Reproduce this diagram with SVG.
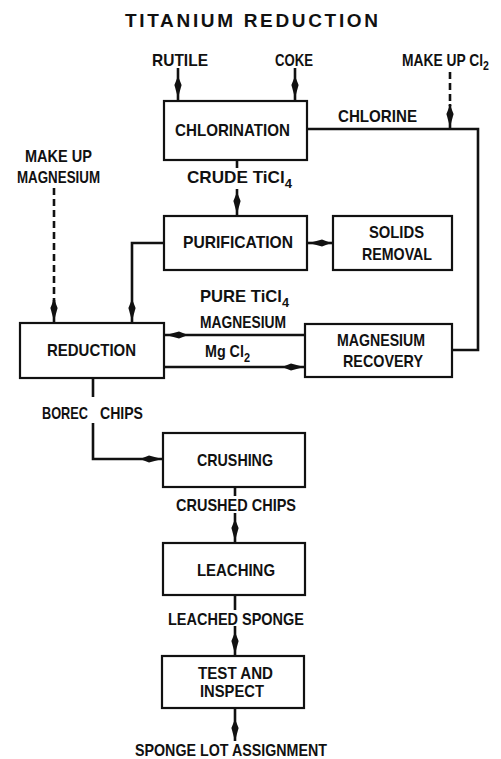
<svg xmlns="http://www.w3.org/2000/svg" xmlns:xlink="http://www.w3.org/1999/xlink" width="501" height="759" viewBox="0 0 501 759">
<style>
.box{fill:#fff;stroke:#111;stroke-width:2.2}
.ln{fill:none;stroke:#111;stroke-width:2.6}
.dash{fill:none;stroke:#111;stroke-width:2.6;stroke-dasharray:7 4}
.t{font-family:"Liberation Sans",Arial,sans-serif;font-weight:bold;font-size:17px;fill:#111}
.sub{font-size:13px}
.title{font-family:"Liberation Sans",Arial,sans-serif;font-weight:bold;font-size:19px;fill:#111}
</style>
<defs>
<polygon id="ah" points="0,0 -13,-3.6 -22,0 -13,3.6" fill="#111"/>
</defs>
<rect width="501" height="759" fill="#fff"/>
<text class="title" x="125" y="27" textLength="253" lengthAdjust="spacing">TITANIUM REDUCTION</text>

<g id="connectors">
  <path class="ln" d="M178,68 V101"/><use xlink:href="#ah" transform="translate(178,98) rotate(90)"/>
  <path class="ln" d="M295,68 V101"/><use xlink:href="#ah" transform="translate(295,98) rotate(90)"/>
  <path class="dash" d="M450,72 V106"/><path class="ln" d="M450,104 V129"/><use xlink:href="#ah" transform="translate(450,127) rotate(90)"/>
  <path class="ln" d="M307,129 H478 V350 H452"/>
  <path class="ln" d="M237,160 V168"/><path class="ln" d="M237,189 V216"/><use xlink:href="#ah" transform="translate(237,214) rotate(90)"/>
  <path class="ln" d="M333,243 H307"/><use xlink:href="#ah" transform="translate(309,243) rotate(180)"/>
  <path class="ln" d="M164,243 H132 V323"/><use xlink:href="#ah" transform="translate(132,321) rotate(90)"/>
  <path class="dash" d="M54,188 V305"/><path class="ln" d="M54,300 V323"/><use xlink:href="#ah" transform="translate(54,321) rotate(90)"/>
  <path class="ln" d="M305,335 H164"/><use xlink:href="#ah" transform="translate(166,335) rotate(180)"/>
  <path class="ln" d="M164,367 H305"/><use xlink:href="#ah" transform="translate(304,367)"/>
  <path class="ln" d="M93,378 V397"/><path class="ln" d="M93,423 V459 H163"/><use xlink:href="#ah" transform="translate(162,459)"/>
  <path class="ln" d="M235,487 V496"/><path class="ln" d="M235,513 V543"/><use xlink:href="#ah" transform="translate(235,541) rotate(90)"/>
  <path class="ln" d="M235,595 V610"/><path class="ln" d="M235,626 V656"/><use xlink:href="#ah" transform="translate(235,654) rotate(90)"/>
  <path class="ln" d="M235,708 V741"/><use xlink:href="#ah" transform="translate(235,741) rotate(90)"/>
</g>

<g id="labels">
  <text class="t" x="152" y="66" textLength="56" lengthAdjust="spacingAndGlyphs">RUTILE</text>
  <text class="t" x="275" y="66" textLength="38" lengthAdjust="spacingAndGlyphs">COKE</text>
  <text class="t" x="402" y="66" textLength="87" lengthAdjust="spacingAndGlyphs">MAKE UP Cl<tspan class="sub" dy="4">2</tspan></text>
  <text class="t" x="338" y="122" textLength="79" lengthAdjust="spacingAndGlyphs">CHLORINE</text>
  <text class="t" x="25" y="162" textLength="67" lengthAdjust="spacingAndGlyphs">MAKE UP</text>
  <text class="t" x="17" y="183" textLength="83" lengthAdjust="spacingAndGlyphs">MAGNESIUM</text>
  <text class="t" x="187" y="183" textLength="105" lengthAdjust="spacingAndGlyphs">CRUDE  TiCl<tspan class="sub" dy="5">4</tspan></text>
  <text class="t" x="200" y="302" textLength="89" lengthAdjust="spacingAndGlyphs">PURE TiCl<tspan class="sub" dy="5">4</tspan></text>
  <text class="t" x="200" y="328" textLength="86" lengthAdjust="spacingAndGlyphs">MAGNESIUM</text>
  <text class="t" x="205" y="357" textLength="45" lengthAdjust="spacingAndGlyphs">Mg Cl<tspan class="sub" dy="5">2</tspan></text>
  <text class="t" x="42" y="419" textLength="46" lengthAdjust="spacingAndGlyphs">BOREC</text>
  <text class="t" x="100" y="419" textLength="43" lengthAdjust="spacingAndGlyphs">CHIPS</text>
  <text class="t" x="176" y="511" textLength="120" lengthAdjust="spacingAndGlyphs">CRUSHED CHIPS</text>
  <text class="t" x="168" y="625" textLength="136" lengthAdjust="spacingAndGlyphs">LEACHED SPONGE</text>
  <text class="t" x="135" y="756" textLength="192" lengthAdjust="spacingAndGlyphs">SPONGE LOT ASSIGNMENT</text>
</g>

<g id="chlorination"><rect class="box" x="164" y="101" width="143" height="59"/><text class="t" x="175" y="136" textLength="115" lengthAdjust="spacingAndGlyphs">CHLORINATION</text></g>
<g id="purification"><rect class="box" x="164" y="216" width="143" height="54"/><text class="t" x="183" y="248" textLength="110" lengthAdjust="spacingAndGlyphs">PURIFICATION</text></g>
<g id="solids-removal"><rect class="box" x="333" y="216" width="119" height="54"/><text class="t" x="369" y="238" textLength="55" lengthAdjust="spacingAndGlyphs">SOLIDS</text><text class="t" x="362" y="260" textLength="70" lengthAdjust="spacingAndGlyphs">REMOVAL</text></g>
<g id="reduction"><rect class="box" x="20" y="323" width="144" height="55"/><text class="t" x="47" y="356" textLength="89" lengthAdjust="spacingAndGlyphs">REDUCTION</text></g>
<g id="magnesium-recovery"><rect class="box" x="305" y="324" width="147" height="53"/><text class="t" x="337" y="346" textLength="88" lengthAdjust="spacingAndGlyphs">MAGNESIUM</text><text class="t" x="343" y="367" textLength="80" lengthAdjust="spacingAndGlyphs">RECOVERY</text></g>
<g id="crushing"><rect class="box" x="163" y="433" width="142" height="54"/><text class="t" x="197" y="466" textLength="76" lengthAdjust="spacingAndGlyphs">CRUSHING</text></g>
<g id="leaching"><rect class="box" x="163" y="543" width="142" height="52"/><text class="t" x="197" y="576" textLength="78" lengthAdjust="spacingAndGlyphs">LEACHING</text></g>
<g id="test-inspect"><rect class="box" x="162" y="656" width="142" height="52"/><text class="t" x="198" y="679" textLength="75" lengthAdjust="spacingAndGlyphs">TEST AND</text><text class="t" x="200" y="697" textLength="64" lengthAdjust="spacingAndGlyphs">INSPECT</text></g>
</svg>
